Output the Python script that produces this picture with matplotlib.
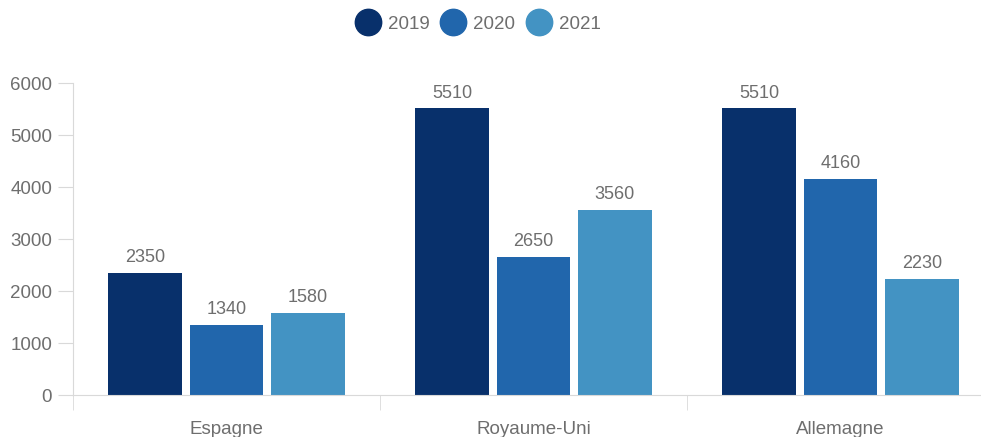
import numpy as np
import matplotlib.pyplot as plt
from matplotlib.lines import Line2D

plt.rcParams['font.family'] = ['Liberation Sans', 'DejaVu Sans']

# --- Data ---
countries = ['Espagne', 'Royaume-Uni', 'Allemagne']
years = ['2019', '2020', '2021']
values_2019 = [2350, 5510, 5510]
values_2020 = [1340, 2650, 4160]
values_2021 = [1580, 3560, 2230]
y_ticks = [0, 1000, 2000, 3000, 4000, 5000, 6000]

colors = ['#08306b', '#2166ac', '#4393c3']
text_grey = '#6e6e6e'
line_grey = '#d9d9d9'

W, H = 981, 437
fig = plt.figure(figsize=(W / 100, H / 100), dpi=100)
# axes spans from the y axis to the end of the last category (runs past the right edge)
left, right, bottom, top = 73, 994, 395, 83
ax = fig.add_axes([left / W, 1 - bottom / H, (right - left) / W, (bottom - top) / H])

x = np.arange(len(countries))
step = 0.265
width = 0.239
series = [values_2019, values_2020, values_2021]
for i, (vals, col, yr) in enumerate(zip(series, colors, years)):
    bars = ax.bar(x + (i - 1) * step, vals, width, color=col, label=yr, zorder=2)
    ax.bar_label(bars, labels=[str(v) for v in vals], padding=5,
                 color=text_grey, fontsize=13, clip_on=False)

ax.set_xlim(-0.5, 2.5)
ax.set_ylim(0, 6000)

# --- Spines ---
for s in ['top', 'right']:
    ax.spines[s].set_visible(False)
ax.spines['left'].set_color(line_grey)
ax.spines['bottom'].set_color(line_grey)
ax.spines['left'].set_bounds(0, 6000)

# --- Y axis ---
ax.set_yticks(y_ticks)
ax.tick_params(axis='y', length=11, color=line_grey, labelcolor=text_grey,
               labelsize=13.5, pad=4)

# --- X axis: labels at centers, separators at category edges ---
ax.set_xticks(x)
ax.set_xticklabels(countries)
ax.set_xticks(np.arange(-0.5, 3.0, 1.0), minor=True)
ax.tick_params(axis='x', which='major', length=0, labelcolor=text_grey,
               labelsize=13.5, pad=19)
ax.tick_params(axis='x', which='minor', length=11, color=line_grey)

# --- Legend ---
handles = [Line2D([], [], marker='o', linestyle='none', markersize=19,
                  markerfacecolor=c, markeredgecolor=c) for c in colors]
fig.legend(handles, years, loc='center', bbox_to_anchor=(478 / W, 1 - 24 / H),
           ncol=3, frameon=False, fontsize=13.5, labelcolor=text_grey,
           handlelength=1.35, handletextpad=0.37, columnspacing=0.6)

plt.savefig('out.png', dpi=100, facecolor='white')
